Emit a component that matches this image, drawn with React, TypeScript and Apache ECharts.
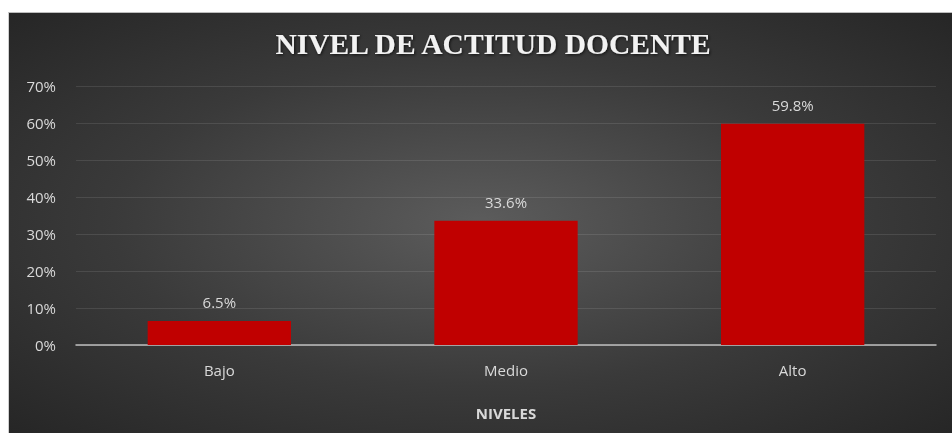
import React, { useEffect, useRef } from "react";
import * as echarts from "echarts";

const categories = ["Bajo", "Medio", "Alto"];
const values = [6.5, 33.6, 59.8];
const yTicks = [0, 10, 20, 30, 40, 50, 60, 70];
const titleText = "NIVEL DE ACTITUD DOCENTE";
const axisName = "NIVELES";

export default function App() {
  const ref = useRef<HTMLDivElement>(null);
  useEffect(() => {
    if (!ref.current) return;
    const chart = echarts.init(ref.current, undefined, { renderer: "svg" });
    chart.setOption({
      animation: false,
      backgroundColor: "transparent",
      title: {
        text: titleText,
        left: 479,
        top: 11,
        textAlign: "center",
        textStyle: {
          fontFamily: "Liberation Serif",
          fontWeight: "bold",
          fontSize: 29.5,
          color: "#f2f2f2",
          textShadowColor: "rgba(0,0,0,0.7)",
          textShadowBlur: 3,
          textShadowOffsetX: 1,
          textShadowOffsetY: 1,
        },
      },
      grid: { left: 67, right: 16, top: 73, bottom: 88 },
      xAxis: {
        type: "category",
        data: categories,
        name: axisName,
        nameLocation: "middle",
        nameGap: 60,
        nameTextStyle: {
          fontFamily: "Open Sans",
          fontWeight: "bold",
          fontSize: 15,
          color: "#d9d9d9",
        },
        axisLine: { lineStyle: { color: "#bfbfbf", width: 1.5 } },
        axisTick: { show: false },
        axisLabel: {
          margin: 17,
          fontFamily: "Open Sans",
          fontSize: 15,
          color: "#d9d9d9",
        },
      },
      yAxis: {
        type: "value",
        min: 0,
        max: 70,
        interval: 10,
        axisLine: { show: false },
        axisTick: { show: false },
        axisLabel: {
          margin: 20,
          fontFamily: "Open Sans",
          fontSize: 15,
          color: "#d9d9d9",
          formatter: (v: number) => (yTicks.includes(v) ? `${v}%` : ""),
        },
        splitLine: { lineStyle: { color: "rgba(255,255,255,0.1)", width: 1 } },
      },
      series: [
        {
          type: "bar",
          data: values,
          barWidth: "50%",
          itemStyle: { color: "#c00000" },
          label: {
            show: true,
            position: "top",
            distance: 11,
            fontFamily: "Open Sans",
            fontSize: 15,
            color: "#d9d9d9",
            formatter: (p: any) => `${p.value.toFixed(1)}%`,
          },
        },
      ],
    });
    return () => chart.dispose();
  }, []);
  return (
    <div
      style={{
        position: "fixed",
        left: 8,
        top: 12,
        width: 944,
        height: 421,
        background:
          "radial-gradient(ellipse at center, #5c5c5c 0%, #3a3a3a 55%, #262626 100%)",
        borderLeft: "1px solid #cfcfcf",
        borderTop: "1px solid #bdbdbd",
        boxSizing: "border-box",
      }}
    >
      <div ref={ref} style={{ width: "100%", height: "100%" }} />
    </div>
  );
}
